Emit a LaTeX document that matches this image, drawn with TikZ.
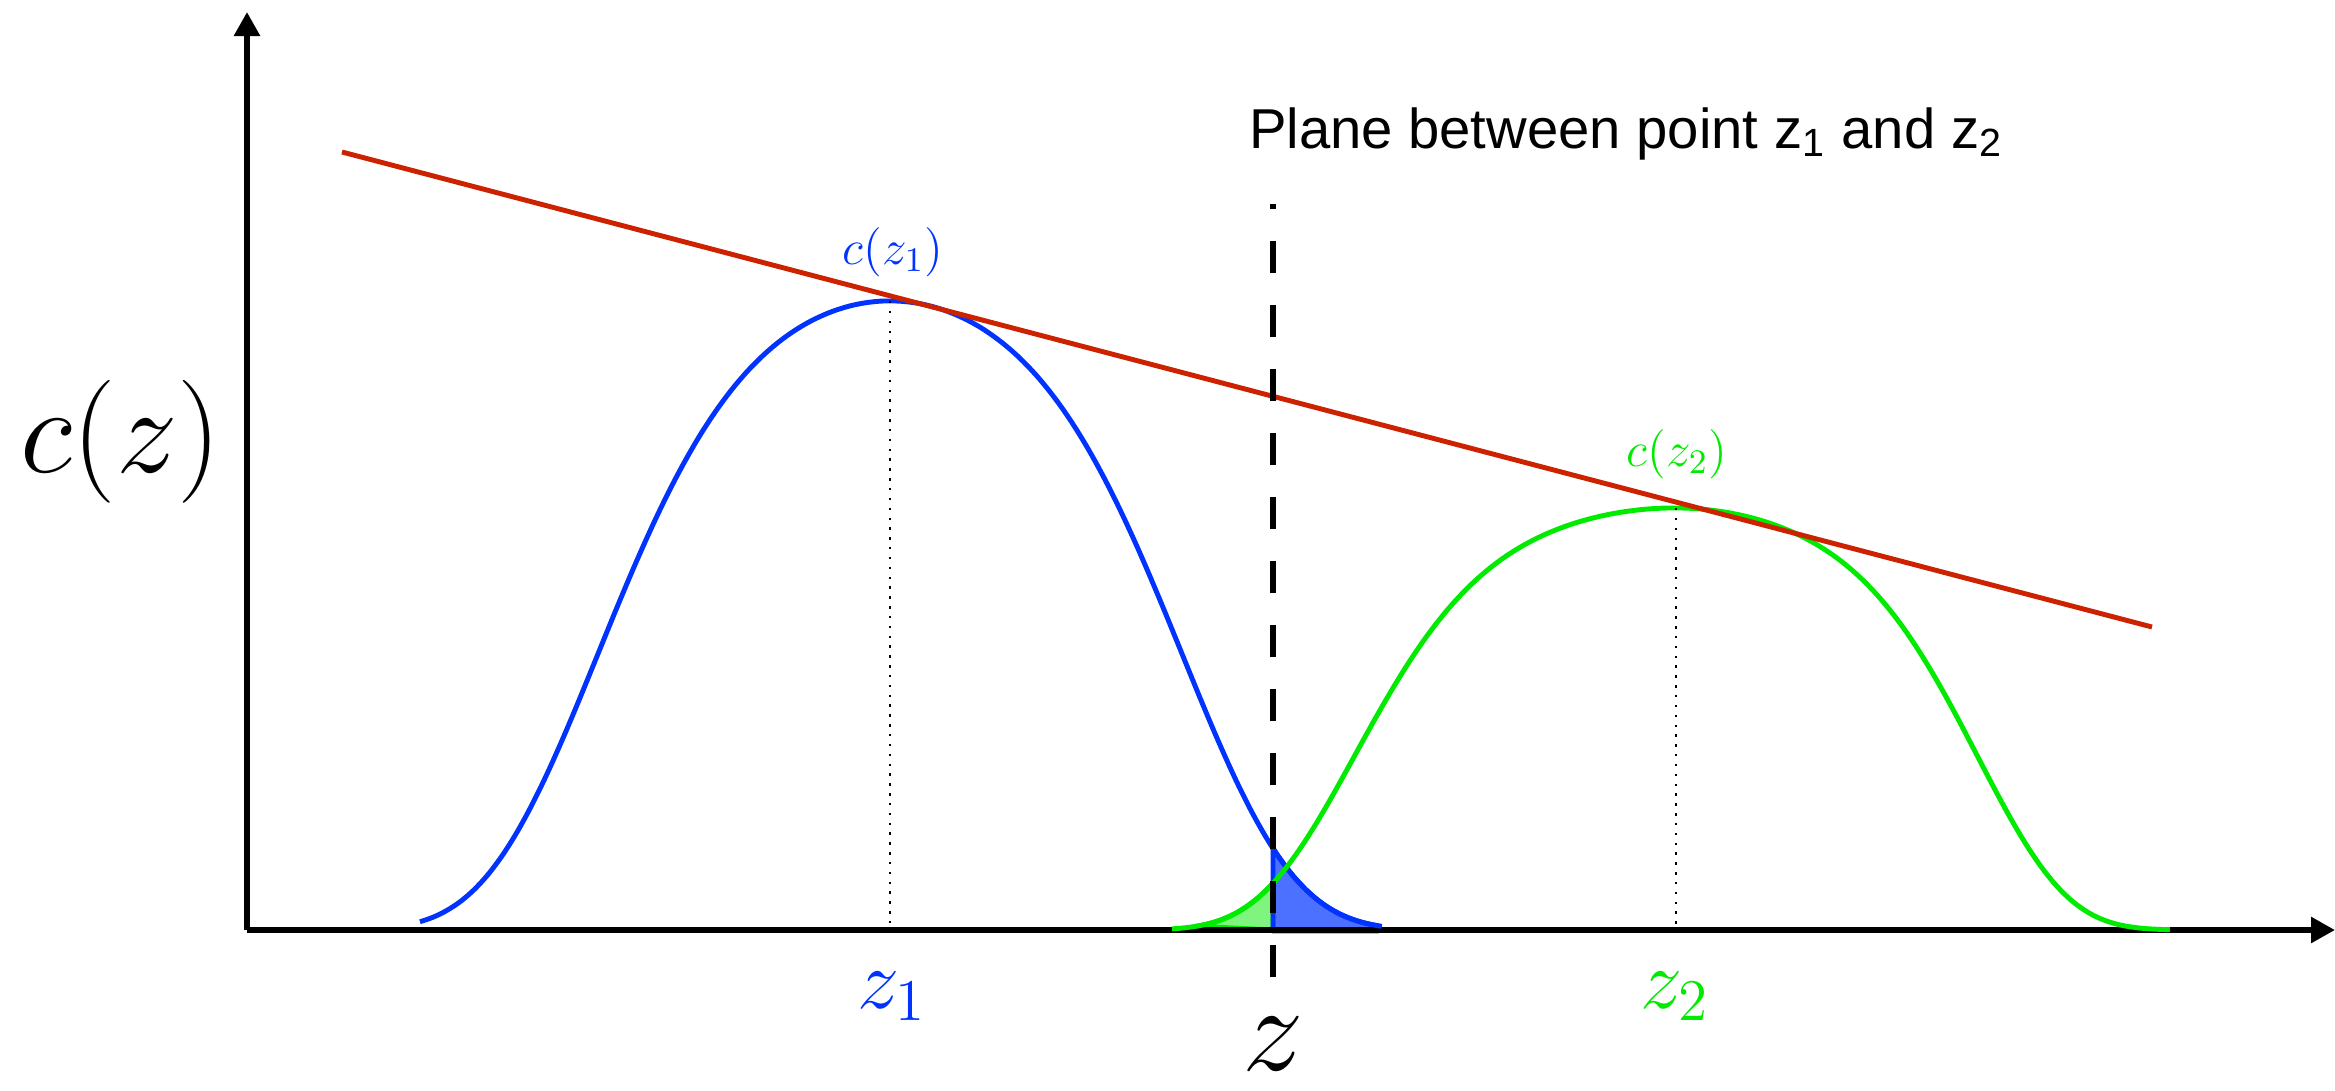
\RequirePackage{fix-cm}
\documentclass[tikz,border=0pt]{standalone}
\usepackage{fontspec}
\newfontfamily\planefont{Liberation Sans}
\usetikzlibrary{arrows.meta}
\definecolor{curveblue}{RGB}{0,51,255}
\definecolor{curvegreen}{RGB}{0,235,0}
\definecolor{tanred}{RGB}{204,34,0}

\begin{document}
\begin{tikzpicture}[>={Triangle[width=0.25cm,length=0.24cm]}, line width=1.5pt,
    axis/.style={->, line width=1.6pt},
    curve/.style={line width=1.4pt, line join=round},
    guide/.style={line width=0.8pt, dash pattern=on 0.7pt off 2.1pt},
    plane/.style={line width=1.6pt, dash pattern=on 0.32cm off 0.32cm},
    declare function={
        bd(\x)=\x-6.43;
        bluec(\x)=6.29*exp(-(0.05*bd(\x)*bd(\x) + 0.00355*(abs(bd(\x))+0.0001)^4.4));
        gd(\x)=(\x-14.28)*((\x<14.28) ? 1 : 1.06);
        greenc(\x)=4.22*exp(-(0.035*gd(\x)*gd(\x) + 0.00155*abs(gd(\x))^5));
    }]
    \useasboundingbox (-2.47,-1.60) rectangle (20.88,9.30);

    % shaded tails on either side of the plane
    \filldraw[curve, draw=curvegreen, fill=curvegreen, fill opacity=0.5]
        plot[domain=9.50:10.26, samples=20] (\x,{greenc(\x)}) -- (10.26,0) -- cycle;
    \filldraw[curve, draw=curveblue, fill=curveblue, fill opacity=0.7]
        plot[domain=10.26:11.31, samples=20] (\x,{bluec(\x)}) -- (11.31,-0.01) -- (10.26,-0.01) -- cycle;

    % axes
    \coordinate (origin) at (0,0);
    \draw[axis] (origin) -- (20.88,0);
    \draw[axis] (origin) -- (0,9.18);

    % the two bumps
    \draw[curve, curveblue] plot[domain=1.73:11.35, samples=140, smooth] (\x,{bluec(\x)});
    \draw[curve, curvegreen] plot[domain=9.25:19.23, samples=140, smooth] (\x,{greenc(\x)});

    % tangent line
    \draw[line width=1.4pt, tanred] (0.95,7.78) -- (19.05,3.03);

    % peaks
    \coordinate (peak1) at (6.43,6.29);
    \coordinate (peak2) at (14.29,4.22);
    \draw[guide] (peak1) -- (peak1 |- origin);
    \draw[guide] (peak2) -- (peak2 |- origin);

    % plane between z1 and z2
    \coordinate (planebot) at (10.26,-0.47);
    \coordinate (planetop) at (10.26,7.26);
    \draw[plane] (planebot) -- (planetop);

    \node[font=\fontsize{35}{40}\selectfont] (cz) at (-1.26,4.88) {$c(z)$};
    \node[font=\fontsize{35}{40}\selectfont, anchor=base] (zaxis) at (10.26,-1.40) {$z$};
    \node[font=\fontsize{24}{29}\selectfont, anchor=base, curveblue] (zone) at (6.45,-0.78) {$z_1$};
    \node[font=\fontsize{24}{29}\selectfont, anchor=base, curvegreen] (ztwo) at (14.28,-0.78) {$z_2$};
    \node[font=\fontsize{14}{17}\selectfont, curveblue] (czone) at (6.46,6.78) {$c(z_1)$};
    \node[font=\fontsize{14}{17}\selectfont, curvegreen] (cztwo) at (14.30,4.76) {$c(z_2)$};
    \node[font=\planefont\fontsize{16}{19}\selectfont, anchor=base] (planelabel) at (13.79,7.82) {Plane between point z\textsubscript{1} and z\textsubscript{2}};
\end{tikzpicture}
\end{document}
